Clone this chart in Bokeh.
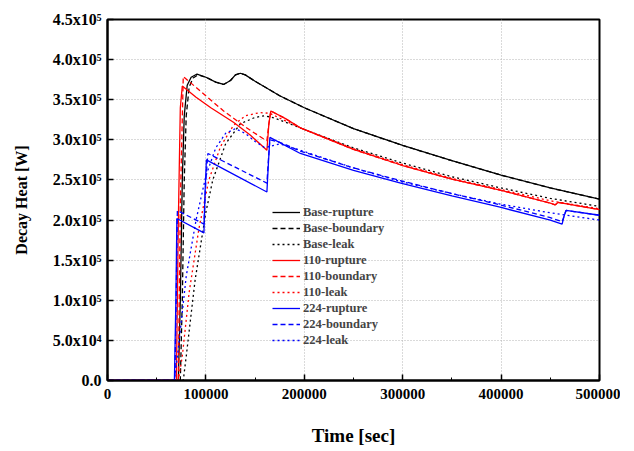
from bokeh.plotting import figure
from bokeh.models import FixedTicker
from bokeh.embed import file_html
from bokeh.resources import INLINE

# ---- data (time in s, decay heat in W) ----
base_rupture_t = [0, 72000, 74000, 76000, 78000, 81000, 85000, 91000, 100000, 110000, 118000, 125000, 130000, 135000, 140000, 150000, 175000, 200000, 250000, 300000, 350000, 400000, 450000, 500000]
base_rupture_p = [0, 0, 1.0e5, 2.5e5, 3.3e5, 3.68e5, 3.78e5, 3.82e5, 3.78e5, 3.72e5, 3.69e5, 3.74e5, 3.81e5, 3.83e5, 3.81e5, 3.73e5, 3.55e5, 3.40e5, 3.14e5, 2.93e5, 2.74e5, 2.56e5, 2.40e5, 2.26e5]

base_boundary_t = [0, 74000, 76000, 78000, 80000, 83000, 87000, 92000, 100000, 110000, 118000, 125000, 130000, 135000, 140000, 150000, 175000, 200000, 250000, 300000, 350000, 400000, 450000, 500000]
base_boundary_p = [0, 0, 1.0e5, 2.5e5, 3.3e5, 3.66e5, 3.77e5, 3.81e5, 3.78e5, 3.72e5, 3.69e5, 3.74e5, 3.81e5, 3.83e5, 3.81e5, 3.73e5, 3.55e5, 3.40e5, 3.14e5, 2.93e5, 2.74e5, 2.56e5, 2.40e5, 2.26e5]

base_leak_t = [0, 77000, 80000, 89000, 100000, 107000, 120000, 135000, 150000, 160000, 170000, 200000, 250000, 300000, 350000, 400000, 450000, 500000]
base_leak_p = [0, 0, 0.3e5, 1.25e5, 2.1e5, 2.5e5, 2.95e5, 3.2e5, 3.28e5, 3.3e5, 3.27e5, 3.13e5, 2.90e5, 2.71e5, 2.54e5, 2.40e5, 2.27e5, 2.17e5]

r110_rupture_t = [0, 70000, 72000, 74000, 76000, 90000, 105000, 128000, 145000, 162000, 164000, 166000, 180000, 196000, 250000, 300000, 350000, 400000, 450000, 455000, 458000, 500000]
r110_rupture_p = [0, 0, 2.0e5, 3.4e5, 3.67e5, 3.53e5, 3.40e5, 3.22e5, 3.06e5, 2.87e5, 3.2e5, 3.36e5, 3.27e5, 3.15e5, 2.88e5, 2.68e5, 2.51e5, 2.37e5, 2.21e5, 2.19e5, 2.22e5, 2.13e5]

r110_boundary_t = [0, 72000, 74000, 77000, 95000, 118000, 140000, 160000, 162000, 164000, 166000, 180000, 196000, 250000, 300000, 350000, 400000, 450000, 455000, 458000, 500000]
r110_boundary_p = [0, 0, 2.2e5, 3.79e5, 3.60e5, 3.36e5, 3.16e5, 3.00e5, 2.99e5, 3.2e5, 3.36e5, 3.27e5, 3.15e5, 2.88e5, 2.68e5, 2.51e5, 2.37e5, 2.21e5, 2.19e5, 2.22e5, 2.13e5]

r110_leak_t = [0, 72000, 76000, 83000, 93000, 103000, 115000, 128000, 140000, 155000, 165000, 175000, 196000, 250000, 300000, 350000, 400000, 450000, 500000]
r110_leak_p = [0, 0, 0.3e5, 1.1e5, 1.9e5, 2.5e5, 2.92e5, 3.18e5, 3.30e5, 3.34e5, 3.33e5, 3.27e5, 3.15e5, 2.89e5, 2.69e5, 2.52e5, 2.38e5, 2.24e5, 2.14e5]

b224_rupture_t = [0, 68000, 69500, 70500, 98000, 99000, 100500, 162000, 163500, 165000, 196000, 250000, 298000, 350000, 399000, 450000, 462000, 464000, 466000, 500000]
b224_rupture_p = [0, 0, 1.0e5, 2.02e5, 1.84e5, 2.3e5, 2.75e5, 2.35e5, 2.7e5, 3.03e5, 2.83e5, 2.62e5, 2.46e5, 2.30e5, 2.16e5, 2.00e5, 1.95e5, 2.05e5, 2.12e5, 2.06e5]

b224_boundary_t = [0, 68500, 70000, 71000, 98000, 100000, 102000, 162000, 163500, 165000, 175000, 196000, 250000, 298000, 350000, 399000, 450000, 462000, 464000, 466000, 500000]
b224_boundary_p = [0, 0, 1.2e5, 2.12e5, 1.95e5, 2.5e5, 2.83e5, 2.46e5, 2.75e5, 3.0e5, 2.97e5, 2.86e5, 2.65e5, 2.49e5, 2.33e5, 2.19e5, 2.03e5, 1.98e5, 2.05e5, 2.12e5, 2.06e5]

b224_leak_t = [0, 68000, 72000, 80000, 90000, 100000, 110000, 120000, 130000, 140000, 150000, 160000, 175000, 196000, 250000, 298000, 350000, 399000, 450000, 500000]
b224_leak_p = [0, 0, 0.4e5, 1.3e5, 2.0e5, 2.55e5, 2.9e5, 3.08e5, 3.14e5, 3.08e5, 2.98e5, 2.9e5, 2.95e5, 2.87e5, 2.65e5, 2.48e5, 2.33e5, 2.20e5, 2.09e5, 2.00e5]

x_ticks = [0, 100000, 200000, 300000, 400000, 500000]
x_minor = [50000, 150000, 250000, 350000, 450000]
x_labels = ["0", "100000", "200000", "300000", "400000", "500000"]
y_ticks = [0, 50000, 100000, 150000, 200000, 250000, 300000, 350000, 400000, 450000]
y_labels = ["0.0", "5.0x10\u2074", "1.0x10\u2075", "1.5x10\u2075", "2.0x10\u2075", "2.5x10\u2075",
            "3.0x10\u2075", "3.5x10\u2075", "4.0x10\u2075", "4.5x10\u2075"]

FONT = "Liberation Serif"

p = figure(width=620, height=450, output_backend="svg", toolbar_location=None,
           x_range=(0, 500000), y_range=(0, 450000),
           min_border_left=107, min_border_right=21, min_border_top=19, min_border_bottom=70)

series = [
    (base_rupture_t, base_rupture_p, "#000000", "solid", "Base-rupture"),
    (base_boundary_t, base_boundary_p, "#000000", "5 3", "Base-boundary"),
    (base_leak_t, base_leak_p, "#000000", "2 3", "Base-leak"),
    (r110_rupture_t, r110_rupture_p, "#ff0000", "solid", "110-rupture"),
    (r110_boundary_t, r110_boundary_p, "#ff0000", "5 3", "110-boundary"),
    (r110_leak_t, r110_leak_p, "#ff0000", "2 3", "110-leak"),
    (b224_rupture_t, b224_rupture_p, "#0000ff", "solid", "224-rupture"),
    (b224_boundary_t, b224_boundary_p, "#0000ff", "5 3", "224-boundary"),
    (b224_leak_t, b224_leak_p, "#0000ff", "2 3", "224-leak"),
]
for t, pw, c, dash, lab in series:
    p.line(t, pw, line_color=c, line_dash=dash, line_width=1.3, legend_label=lab)

# axes
p.xaxis.ticker = FixedTicker(ticks=x_ticks, minor_ticks=x_minor)
p.yaxis.ticker = FixedTicker(ticks=y_ticks)
p.xaxis.major_label_overrides = {k: v for k, v in zip(x_ticks, x_labels)}
p.yaxis.major_label_overrides = {k: v for k, v in zip(y_ticks, y_labels)}

for ax in (p.xaxis[0], p.yaxis[0]):
    ax.major_tick_in = 6
    ax.major_tick_out = 0
    ax.minor_tick_in = 3
    ax.minor_tick_out = 0
    ax.axis_line_width = 2
    ax.major_tick_line_width = 1.5
    ax.major_label_text_font = FONT
    ax.major_label_text_font_style = "bold"
    ax.major_label_text_color = "#000000"
    ax.axis_label_text_font = FONT
    ax.axis_label_text_font_style = "bold"
    ax.axis_label_text_color = "#000000"

p.yaxis.minor_tick_line_color = None
p.xaxis.major_label_text_font_size = "15px"
p.yaxis.major_label_text_font_size = "16px"
p.xaxis.major_label_standoff = 8
p.yaxis.major_label_standoff = 6
p.xaxis.axis_label = "Time [sec]"
p.yaxis.axis_label = "Decay Heat [W]"
p.xaxis.axis_label_text_font_size = "19px"
p.yaxis.axis_label_text_font_size = "16px"
p.xaxis.axis_label_standoff = 23
p.yaxis.axis_label_standoff = 20

# grid
for g in (p.xgrid[0], p.ygrid[0]):
    g.grid_line_color = "#b5b5b5"
    g.grid_line_dash = "1 2"
    g.grid_line_width = 1

p.outline_line_color = "#000000"
p.outline_line_width = 2

# legend
lg = p.legend[0]
lg.location = (165, 32)
lg.glyph_width = 28
lg.glyph_height = 16
lg.label_height = 16
lg.spacing = 0
lg.padding = 0
lg.margin = 0
lg.label_standoff = 3
lg.label_text_font = FONT
lg.label_text_font_style = "bold"
lg.label_text_font_size = "12.5px"
lg.border_line_color = None
lg.background_fill_alpha = 0

open("out.html", "w").write(file_html(p, INLINE))
